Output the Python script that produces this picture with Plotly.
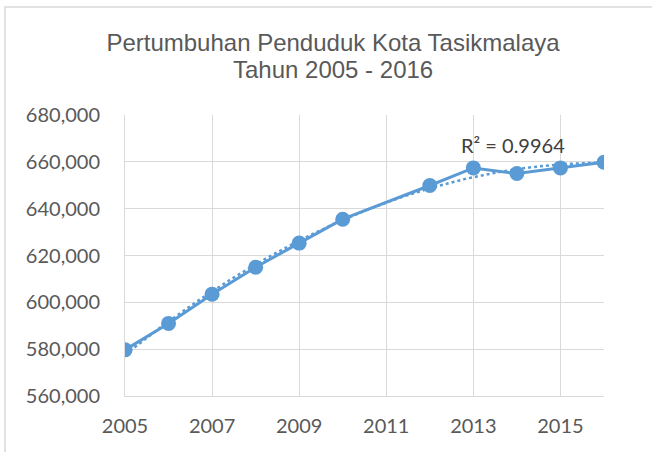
import numpy as np
import plotly.graph_objects as go

years = [2005, 2006, 2007, 2008, 2009, 2010, 2011, 2012, 2013, 2014, 2015, 2016]
population = [579700, 591000, 603500, 615000, 625300, 635500, None, 649900, 657400, 655000, 657400, 659800]
title_lines = ["Pertumbuhan Penduduk Kota Tasikmalaya", "Tahun 2005 - 2016"]
r2_label = "R² = 0.9964"

blue = "#5b9bd5"
grey_text = "#595959"
grid = "#d9d9d9"

# polynomial (order 2) trendline fitted to the known points
xs = np.array([y for y, p in zip(years, population) if p is not None], dtype=float)
ps = np.array([p for p in population if p is not None], dtype=float)
coef = np.polyfit(xs - 2005, ps, 2)
xt = np.linspace(2005, 2016, 200)
yt = np.polyval(coef, xt - 2005)

L, R, T, B = 125, 48, 115, 56
W, H = 652, 452
pw, ph = W - L - R, H - T - B

def px_x(x):
    return (x - L) / pw

def px_y(y):
    return (H - B - y) / ph

fig = go.Figure()
fig.add_trace(go.Scatter(x=xt, y=yt, mode="lines",
                         line=dict(color=blue, width=2.5, dash="dot"),
                         hoverinfo="skip", showlegend=False))
fig.add_trace(go.Scatter(x=years, y=population, mode="lines+markers",
                         connectgaps=True,
                         line=dict(color=blue, width=3),
                         marker=dict(color=blue, size=15),
                         showlegend=False))

fig.add_annotation(x=2013.92, y=667300, text=r2_label, showarrow=False,
                   font=dict(family="Lato, Open Sans, sans-serif", size=20, color="#404040"))

title_font = dict(family="Liberation Sans, Arial, sans-serif", size=24, color=grey_text)
fig.add_annotation(xref="paper", yref="paper", x=px_x(333), y=px_y(69),
                   text=title_lines[1], showarrow=False, font=title_font,
                   xanchor="center", yanchor="middle")

fig.update_layout(
    width=W, height=H,
    margin=dict(l=L, r=R, t=T, b=B),
    paper_bgcolor="white", plot_bgcolor="white",
    title=dict(text=title_lines[0], x=333 / W, xanchor="center",
               xref="container", y=1 - 43 / H, yanchor="middle",
               font=title_font),
    xaxis=dict(range=[2005, 2016], tick0=2005, dtick=2, showgrid=True, gridcolor=grid,
               gridwidth=1, showline=True, linecolor=grid, linewidth=1, zeroline=False,
               ticks="", ticklabelstandoff=12,
               tickfont=dict(family="Lato, Open Sans, sans-serif", size=20, color=grey_text)),
    yaxis=dict(range=[560000, 680000], dtick=20000, tickformat=",", showgrid=True,
               gridcolor=grid, gridwidth=1, showline=True, linecolor=grid, linewidth=1,
               zeroline=False, ticks="", ticklabelstandoff=20,
               tickfont=dict(family="Lato, Open Sans, sans-serif", size=20, color=grey_text)),
    shapes=[dict(type="rect", xref="paper", yref="paper",
                 x0=px_x(5), x1=px_x(660),
                 y0=px_y(470), y1=px_y(7),
                 line=dict(color=grid, width=1.5), layer="below")],
)

fig.write_html("out.html", config={"displayModeBar": False},
               post_script="document.body.style.margin='0px';")
